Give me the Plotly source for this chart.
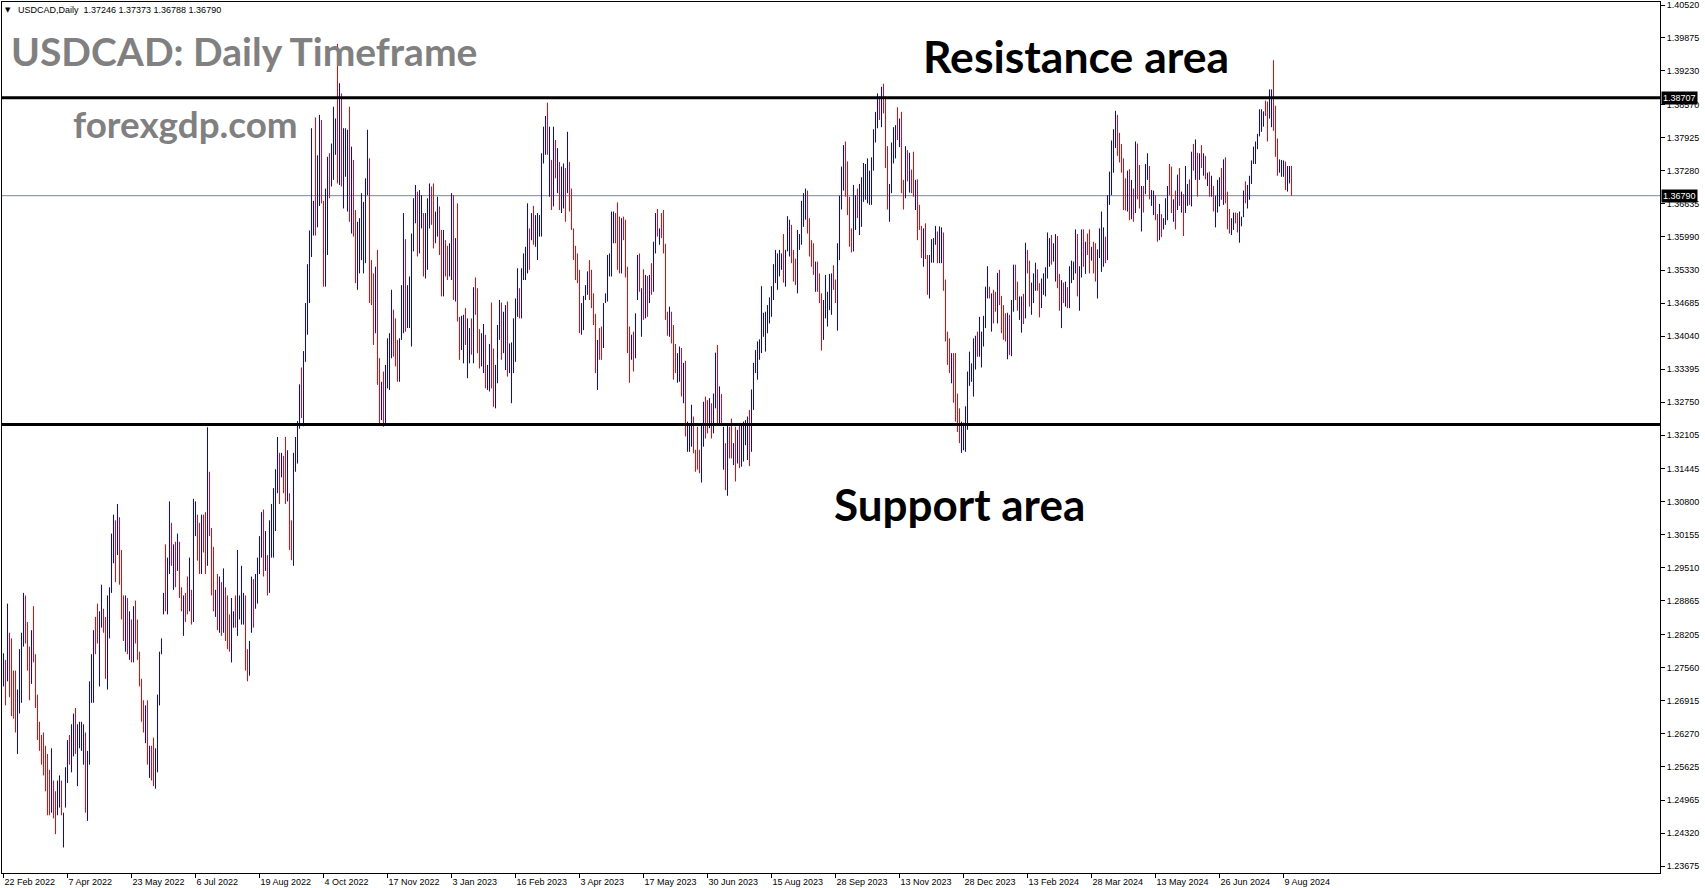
import plotly.graph_objects as go

# ---------------- data ----------------
symbol_header = "USDCAD,Daily"

opens = [
1.2739,1.2753,1.2775,1.2799,1.2783,1.2731,1.2726,1.2625,1.2704,1.2728,
1.2829,1.2878,1.2826,1.2776,1.2756,1.2854,1.2761,1.2685,1.2639,1.2612,
1.2612,1.2585,1.2563,1.2538,1.2510,1.2520,1.2497,1.2487,1.2501,1.2521,
1.2424,1.2506,1.2555,1.2612,1.2579,1.2607,1.2659,1.2560,1.2614,1.2610,
1.2590,1.2598,1.2497,1.2615,1.2716,1.2730,1.2840,1.2865,1.2763,1.2859,
1.2862,1.2831,1.2768,1.2843,1.2937,1.2989,1.3020,1.3006,1.3024,1.2959,
1.2879,1.2820,1.2870,1.2800,1.2833,1.2799,1.2870,1.2834,1.2773,1.2717,
1.2679,1.2630,1.2667,1.2559,1.2589,1.2600,1.2543,1.2597,1.2714,1.2791,
1.2873,1.2971,1.2893,1.2982,1.3022,1.2935,1.2984,1.2967,1.2980,1.2904,
1.2842,1.2891,1.2919,1.2898,1.2894,1.2917,1.3033,1.3037,1.3019,1.2974,
1.3040,1.3036,1.3036,1.3114,1.3003,1.2967,1.2871,1.2917,1.2857,1.2902,
1.2862,1.2892,1.2876,1.2845,1.2804,1.2844,1.2884,1.2868,1.2864,1.2875,
1.2859,1.2868,1.2779,1.2760,1.2857,1.2910,1.2891,1.2908,1.2961,1.2998,
1.3039,1.2968,1.2960,1.2945,1.3003,1.3012,1.3059,1.3130,1.3156,1.3142,
1.3155,1.3181,1.3111,1.3075,1.3028,1.3021,1.3159,1.3180,1.3249,1.3323,
1.3272,1.3389,1.3448,1.3512,1.3635,1.3621,1.3786,1.3659,1.3712,1.3794,
1.3635,1.3559,1.3621,1.3744,1.3722,1.3753,1.3780,1.3921,1.3760,1.3843,
1.3701,1.3745,1.3696,1.3808,1.3656,1.3719,1.3622,1.3535,1.3559,1.3592,
1.3569,1.3597,1.3718,1.3695,1.3535,1.3499,1.3449,1.3520,1.3336,1.3263,
1.3313,1.3266,1.3331,1.3332,1.3401,1.3438,1.3420,1.3381,1.3341,1.3429,
1.3481,1.3558,1.3445,1.3450,1.3450,1.3601,1.3648,1.3662,1.3603,1.3635,
1.3620,1.3555,1.3576,1.3641,1.3682,1.3678,1.3605,1.3622,1.3639,1.3586,
1.3521,1.3578,1.3568,1.3541,1.3565,1.3639,1.3509,1.3618,1.3425,1.3397,
1.3380,1.3445,1.3357,1.3372,1.3425,1.3396,1.3504,1.3473,1.3403,1.3365,
1.3361,1.3386,1.3314,1.3324,1.3436,1.3357,1.3289,1.3346,1.3420,1.3448,
1.3395,1.3376,1.3443,1.3349,1.3309,1.3364,1.3391,1.3471,1.3486,1.3468,
1.3530,1.3534,1.3568,1.3599,1.3608,1.3644,1.3598,1.3581,1.3612,1.3648,
1.3764,1.3782,1.3841,1.3718,1.3729,1.3705,1.3773,1.3710,1.3726,1.3672,
1.3680,1.3712,1.3720,1.3726,1.3677,1.3603,1.3568,1.3554,1.3509,1.3426,
1.3436,1.3484,1.3499,1.3537,1.3519,1.3476,1.3425,1.3328,1.3408,1.3410,
1.3407,1.3475,1.3499,1.3535,1.3559,1.3605,1.3633,1.3640,1.3616,1.3559,
1.3629,1.3609,1.3506,1.3401,1.3373,1.3397,1.3387,1.3501,1.3551,1.3432,
1.3515,1.3465,1.3506,1.3486,1.3535,1.3520,1.3590,1.3642,1.3593,1.3635,
1.3634,1.3555,1.3443,1.3421,1.3440,1.3405,1.3378,1.3330,1.3336,1.3362,
1.3297,1.3326,1.3196,1.3195,1.3213,1.3233,1.3173,1.3210,1.3173,1.3152,
1.3214,1.3270,1.3266,1.3242,1.3259,1.3237,1.3296,1.3356,1.3256,1.3280,
1.3168,1.3177,1.3133,1.3215,1.3227,1.3165,1.3206,1.3175,1.3214,1.3175,
1.3182,1.3206,1.3188,1.3238,1.3215,1.3288,1.3346,1.3342,1.3370,1.3410,
1.3417,1.3397,1.3427,1.3444,1.3460,1.3496,1.3528,1.3516,1.3537,1.3544,
1.3585,1.3523,1.3591,1.3582,1.3607,1.3561,1.3546,1.3525,1.3582,1.3609,
1.3638,1.3650,1.3672,1.3620,1.3582,1.3574,1.3509,1.3538,1.3515,1.3466,
1.3420,1.3465,1.3443,1.3476,1.3470,1.3533,1.3506,1.3466,1.3591,1.3677,
1.3716,1.3763,1.3725,1.3657,1.3606,1.3609,1.3632,1.3681,1.3632,1.3647,
1.3690,1.3692,1.3690,1.3681,1.3689,1.3752,1.3801,1.3831,1.3864,1.3837,
1.3886,1.3845,1.3751,1.3650,1.3714,1.3763,1.3772,1.3839,1.3791,1.3811,
1.3698,1.3705,1.3756,1.3708,1.3721,1.3747,1.3669,1.3687,1.3651,1.3607,
1.3563,1.3611,1.3547,1.3504,1.3562,1.3562,1.3594,1.3597,1.3569,1.3568,
1.3584,1.3491,1.3400,1.3386,1.3330,1.3352,1.3344,1.3277,1.3249,1.3194,
1.3197,1.3205,1.3255,1.3327,1.3326,1.3320,1.3359,1.3403,1.3387,1.3364,
1.3402,1.3444,1.3497,1.3496,1.3436,1.3482,1.3483,1.3459,1.3520,1.3468,
1.3451,1.3438,1.3386,1.3430,1.3398,1.3480,1.3530,1.3500,1.3450,1.3432,
1.3475,1.3483,1.3564,1.3534,1.3465,1.3486,1.3510,1.3527,1.3495,1.3476,
1.3498,1.3499,1.3544,1.3557,1.3590,1.3561,1.3539,1.3580,1.3512,1.3448,
1.3501,1.3477,1.3492,1.3484,1.3521,1.3525,1.3553,1.3580,1.3480,1.3547,
1.3598,1.3545,1.3597,1.3596,1.3560,1.3577,1.3571,1.3507,1.3574,1.3565,
1.3563,1.3589,1.3591,1.3681,1.3712,1.3750,1.3794,1.3821,1.3790,1.3769,
1.3732,1.3700,1.3672,1.3711,1.3656,1.3680,1.3687,1.3759,1.3722,1.3636,
1.3688,1.3700,1.3726,1.3724,1.3668,1.3655,1.3670,1.3632,1.3613,1.3634,
1.3620,1.3638,1.3651,1.3729,1.3718,1.3641,1.3674,1.3672,1.3718,1.3658,
1.3666,1.3673,1.3672,1.3701,1.3690,1.3770,1.3734,1.3746,1.3726,1.3769,
1.3731,1.3748,1.3706,1.3716,1.3689,1.3688,1.3636,1.3665,1.3675,1.3721,
1.3688,1.3736,1.3672,1.3643,1.3612,1.3622,1.3642,1.3637,1.3605,1.3625,
1.3653,1.3698,1.3668,1.3685,1.3716,1.3751,1.3754,1.3779,1.3811,1.3817,
1.3823,1.3859,1.3847,1.3847,1.3835,1.3916,1.3835,1.3776,1.3732,1.3726,
1.3726,1.3735,1.3702,1.3713,1.37246]

highs = [
1.2784,1.2771,1.2881,1.2824,1.2813,1.2750,1.2750,1.2713,1.2792,1.2824,
1.2902,1.2897,1.2845,1.2797,1.2829,1.2876,1.2782,1.2703,1.2650,1.2624,
1.2629,1.2603,1.2587,1.2556,1.2598,1.2535,1.2514,1.2535,1.2545,1.2535,
1.2472,1.2561,1.2614,1.2624,1.2645,1.2666,1.2677,1.2645,1.2650,1.2650,
1.2645,1.2629,1.2593,1.2729,1.2782,1.2829,1.2855,1.2881,1.2866,1.2918,
1.2871,1.2855,1.2897,1.2913,1.3018,1.3055,1.3044,1.3076,1.3050,1.2986,
1.2897,1.2897,1.2892,1.2866,1.2850,1.2876,1.2887,1.2850,1.2787,1.2734,
1.2692,1.2682,1.2692,1.2603,1.2603,1.2619,1.2598,1.2703,1.2787,1.2813,
1.2902,1.2997,1.2971,1.3081,1.3039,1.2997,1.3002,1.3018,1.3002,1.2913,
1.2897,1.2902,1.2934,1.2971,1.2908,1.3086,1.3081,1.3055,1.3039,1.3055,
1.3055,1.3060,1.3226,1.3139,1.3029,1.2992,1.2908,1.2939,1.2934,1.2923,
1.2950,1.2913,1.2897,1.2860,1.2892,1.2866,1.2897,1.2986,1.2897,1.2955,
1.2902,1.2897,1.2792,1.2808,1.2934,1.2929,1.2939,1.2971,1.3013,1.3060,
1.3065,1.3023,1.2976,1.3044,1.3076,1.3107,1.3144,1.3207,1.3176,1.3176,
1.3170,1.3207,1.3181,1.3097,1.3044,1.3176,1.3207,1.3238,1.3310,1.3343,
1.3375,1.3469,1.3545,1.3611,1.3811,1.3669,1.3832,1.3758,1.3837,1.3827,
1.3669,1.3693,1.3755,1.3762,1.3781,1.3853,1.3830,1.3976,1.3899,1.3879,
1.3811,1.3811,1.3808,1.3853,1.3775,1.3749,1.3651,1.3628,1.3635,1.3684,
1.3667,1.3713,1.3808,1.3752,1.3553,1.3527,1.3540,1.3573,1.3361,1.3315,
1.3335,1.3348,1.3400,1.3410,1.3495,1.3456,1.3439,1.3397,1.3400,1.3504,
1.3645,1.3594,1.3504,1.3521,1.3605,1.3674,1.3700,1.3687,1.3690,1.3680,
1.3645,1.3645,1.3674,1.3703,1.3697,1.3703,1.3648,1.3677,1.3658,1.3612,
1.3612,1.3592,1.3581,1.3586,1.3684,1.3680,1.3596,1.3664,1.3442,1.3444,
1.3446,1.3459,1.3439,1.3420,1.3439,1.3500,1.3519,1.3498,1.3418,1.3410,
1.3428,1.3407,1.3348,1.3389,1.3470,1.3380,1.3348,1.3426,1.3475,1.3470,
1.3452,1.3465,1.3472,1.3390,1.3392,1.3439,1.3478,1.3537,1.3498,1.3537,
1.3566,1.3579,1.3664,1.3615,1.3645,1.3659,1.3641,1.3645,1.3641,1.3762,
1.3814,1.3835,1.3861,1.3814,1.3749,1.3814,1.3788,1.3772,1.3745,1.3736,
1.3742,1.3733,1.3804,1.3745,1.3693,1.3615,1.3581,1.3566,1.3534,1.3469,
1.3483,1.3504,1.3531,1.3553,1.3534,1.3488,1.3448,1.3397,1.3420,1.3423,
1.3469,1.3488,1.3563,1.3566,1.3648,1.3648,1.3645,1.3666,1.3638,1.3635,
1.3638,1.3632,1.3540,1.3423,1.3407,1.3413,1.3449,1.3563,1.3566,1.3498,
1.3535,1.3524,1.3522,1.3524,1.3547,1.3589,1.3645,1.3653,1.3615,1.3645,
1.3651,1.3585,1.3452,1.3462,1.3452,1.3426,1.3389,1.3371,1.3384,1.3381,
1.3352,1.3356,1.3237,1.3234,1.3270,1.3247,1.3182,1.3227,1.3182,1.3230,
1.3276,1.3286,1.3279,1.3283,1.3273,1.3292,1.3372,1.3387,1.3306,1.3291,
1.3227,1.3195,1.3229,1.3227,1.3243,1.3195,1.3227,1.3221,1.3231,1.3234,
1.3237,1.3240,1.3247,1.3260,1.3300,1.3352,1.3377,1.3394,1.3398,1.3502,
1.3450,1.3452,1.3465,1.3480,1.3502,1.3545,1.3573,1.3566,1.3573,1.3566,
1.3604,1.3573,1.3639,1.3632,1.3622,1.3573,1.3556,1.3612,1.3604,1.3669,
1.3684,1.3693,1.3689,1.3635,1.3592,1.3586,1.3550,1.3550,1.3527,1.3488,
1.3475,1.3524,1.3491,1.3526,1.3527,1.3543,1.3515,1.3586,1.3679,1.3736,
1.3778,1.3785,1.3746,1.3677,1.3615,1.3700,1.3680,1.3693,1.3702,1.3715,
1.3743,1.3741,1.3752,1.3728,1.3754,1.3809,1.3843,1.3879,1.3873,1.3892,
1.3898,1.3873,1.3776,1.3702,1.3783,1.3813,1.3817,1.3852,1.3830,1.3843,
1.3710,1.3776,1.3768,1.3763,1.3730,1.3765,1.3710,1.3711,1.3661,1.3620,
1.3615,1.3625,1.3563,1.3563,1.3594,1.3596,1.3620,1.3609,1.3619,1.3617,
1.3607,1.3515,1.3413,1.3400,1.3371,1.3371,1.3371,1.3292,1.3263,1.3237,
1.3235,1.3267,1.3335,1.3374,1.3351,1.3400,1.3405,1.3413,1.3442,1.3413,
1.3444,1.3501,1.3541,1.3501,1.3488,1.3495,1.3491,1.3528,1.3534,1.3483,
1.3465,1.3449,1.3450,1.3446,1.3475,1.3544,1.3544,1.3511,1.3482,1.3482,
1.3487,1.3587,1.3573,1.3552,1.3509,1.3527,1.3548,1.3535,1.3508,1.3517,
1.3527,1.3539,1.3607,1.3596,1.3602,1.3586,1.3604,1.3600,1.3526,1.3514,
1.3509,1.3511,1.3500,1.3541,1.3552,1.3550,1.3613,1.3604,1.3541,1.3613,
1.3613,1.3589,1.3605,1.3613,1.3579,1.3589,1.3586,1.3574,1.3615,1.3648,
1.3617,1.3599,1.3680,1.3726,1.3787,1.3809,1.3845,1.3837,1.3802,1.3780,
1.3752,1.3713,1.3728,1.3731,1.3710,1.3693,1.3785,1.3781,1.3739,1.3698,
1.3698,1.3741,1.3762,1.3737,1.3690,1.3689,1.3680,1.3643,1.3663,1.3643,
1.3635,1.3674,1.3698,1.3741,1.3736,1.3672,1.3689,1.3720,1.3733,1.3687,
1.3682,1.3737,1.3702,1.3711,1.3765,1.3780,1.3789,1.3763,1.3762,1.3778,
1.3762,1.3757,1.3724,1.3726,1.3718,1.3698,1.3679,1.3710,1.3715,1.3733,
1.3750,1.3754,1.3687,1.3653,1.3635,1.3646,1.3646,1.3645,1.3648,1.3638,
1.3689,1.3707,1.3700,1.3718,1.3748,1.3775,1.3785,1.3800,1.3848,1.3848,
1.3844,1.3865,1.3863,1.3887,1.3887,1.3944,1.3855,1.3791,1.3750,1.3749,
1.3748,1.3746,1.3737,1.3737,1.37373]

lows = [
1.2719,1.2682,1.2729,1.2698,1.2661,1.2656,1.2629,1.2587,1.2666,1.2687,
1.2797,1.2803,1.2750,1.2692,1.2724,1.2766,1.2677,1.2614,1.2593,1.2566,
1.2545,1.2514,1.2467,1.2467,1.2472,1.2461,1.2430,1.2467,1.2482,1.2467,
1.2404,1.2482,1.2530,1.2566,1.2551,1.2582,1.2587,1.2524,1.2598,1.2593,
1.2566,1.2472,1.2456,1.2566,1.2687,1.2687,1.2782,1.2803,1.2719,1.2834,
1.2824,1.2734,1.2713,1.2813,1.2902,1.2960,1.2923,1.2976,1.2918,1.2850,
1.2808,1.2787,1.2782,1.2771,1.2766,1.2766,1.2803,1.2771,1.2719,1.2650,
1.2629,1.2608,1.2566,1.2540,1.2535,1.2524,1.2519,1.2551,1.2682,1.2782,
1.2860,1.2866,1.2860,1.2939,1.2955,1.2908,1.2913,1.2945,1.2892,1.2866,
1.2818,1.2845,1.2860,1.2866,1.2840,1.2845,1.3013,1.2965,1.2939,1.2939,
1.2981,1.2939,1.2955,1.3013,1.2897,1.2866,1.2855,1.2829,1.2824,1.2818,
1.2824,1.2808,1.2792,1.2787,1.2766,1.2834,1.2834,1.2818,1.2850,1.2840,
1.2840,1.2750,1.2729,1.2740,1.2824,1.2834,1.2871,1.2881,1.2939,1.2971,
1.2934,1.2945,1.2897,1.2902,1.2971,1.2971,1.3023,1.3097,1.3076,1.3128,
1.3097,1.3076,1.3081,1.2986,1.2966,1.2955,1.3139,1.3155,1.3223,1.3244,
1.3228,1.3354,1.3407,1.3469,1.3559,1.3601,1.3601,1.3617,1.3659,1.3664,
1.3501,1.3501,1.3563,1.3674,1.3697,1.3710,1.3759,1.3703,1.3700,1.3697,
1.3654,1.3716,1.3648,1.3628,1.3605,1.3599,1.3508,1.3495,1.3527,1.3553,
1.3527,1.3547,1.3680,1.3469,1.3465,1.3387,1.3410,1.3309,1.3234,1.3240,
1.3227,1.3231,1.3302,1.3299,1.3361,1.3364,1.3345,1.3315,1.3315,1.3397,
1.3410,1.3413,1.3420,1.3420,1.3384,1.3570,1.3625,1.3560,1.3566,1.3615,
1.3521,1.3517,1.3534,1.3615,1.3622,1.3576,1.3586,1.3599,1.3563,1.3482,
1.3482,1.3521,1.3514,1.3521,1.3514,1.3475,1.3472,1.3433,1.3358,1.3377,
1.3351,1.3387,1.3322,1.3351,1.3368,1.3351,1.3446,1.3371,1.3341,1.3345,
1.3332,1.3302,1.3299,1.3296,1.3302,1.3266,1.3263,1.3312,1.3397,1.3358,
1.3371,1.3338,1.3325,1.3332,1.3273,1.3332,1.3354,1.3442,1.3439,1.3439,
1.3514,1.3514,1.3527,1.3534,1.3592,1.3583,1.3579,1.3553,1.3599,1.3599,
1.3742,1.3759,1.3759,1.3677,1.3651,1.3658,1.3713,1.3684,1.3651,1.3645,
1.3654,1.3628,1.3684,1.3648,1.3612,1.3553,1.3514,1.3508,1.3410,1.3407,
1.3416,1.3475,1.3485,1.3475,1.3459,1.3426,1.3332,1.3299,1.3358,1.3358,
1.3381,1.3469,1.3472,1.3521,1.3521,1.3586,1.3586,1.3534,1.3527,1.3527,
1.3592,1.3519,1.3371,1.3313,1.3358,1.3335,1.3361,1.3475,1.3491,1.3403,
1.3436,1.3439,1.3442,1.3469,1.3485,1.3491,1.3566,1.3599,1.3583,1.3596,
1.3566,1.3436,1.3405,1.3403,1.3390,1.3319,1.3332,1.3313,1.3315,1.3286,
1.3273,1.3208,1.3178,1.3178,1.3188,1.3175,1.3139,1.3143,1.3136,1.3118,
1.3188,1.3204,1.3214,1.3224,1.3204,1.3214,1.3263,1.3234,1.3234,1.3234,
1.3143,1.3103,1.3092,1.3165,1.3165,1.3152,1.3120,1.3155,1.3146,1.3149,
1.3159,1.3191,1.3162,1.3150,1.3178,1.3260,1.3332,1.3319,1.3358,1.3371,
1.3403,1.3374,1.3410,1.3429,1.3442,1.3475,1.3508,1.3495,1.3521,1.3534,
1.3509,1.3501,1.3570,1.3560,1.3547,1.3511,1.3504,1.3488,1.3573,1.3583,
1.3618,1.3632,1.3605,1.3560,1.3540,1.3524,1.3491,1.3491,1.3469,1.3376,
1.3397,1.3439,1.3423,1.3455,1.3446,1.3495,1.3469,1.3415,1.3553,1.3652,
1.3689,1.3677,1.3641,1.3579,1.3568,1.3570,1.3612,1.3635,1.3602,1.3618,
1.3667,1.3671,1.3664,1.3661,1.3661,1.3728,1.3783,1.3811,1.3827,1.3813,
1.3840,1.3733,1.3652,1.3628,1.3684,1.3742,1.3752,1.3788,1.3774,1.3684,
1.3652,1.3674,1.3707,1.3685,1.3684,1.3677,1.3651,1.3592,1.3612,1.3557,
1.3540,1.3555,1.3485,1.3478,1.3548,1.3548,1.3583,1.3547,1.3547,1.3547,
1.3493,1.3394,1.3348,1.3332,1.3312,1.3274,1.3237,1.3217,1.3195,1.3176,
1.3181,1.3178,1.3221,1.3307,1.3315,1.3286,1.3339,1.3364,1.3364,1.3343,
1.3384,1.3420,1.3478,1.3478,1.3413,1.3429,1.3452,1.3429,1.3465,1.3410,
1.3397,1.3394,1.3359,1.3367,1.3365,1.3452,1.3475,1.3454,1.3436,1.3411,
1.3428,1.3439,1.3527,1.3462,1.3446,1.3469,1.3493,1.3493,1.3441,1.3459,
1.3485,1.3482,1.3517,1.3540,1.3544,1.3550,1.3511,1.3498,1.3454,1.3420,
1.3469,1.3462,1.3459,1.3459,1.3508,1.3514,1.3527,1.3482,1.3454,1.3519,
1.3540,1.3526,1.3563,1.3527,1.3552,1.3527,1.3511,1.3478,1.3557,1.3530,
1.3540,1.3547,1.3553,1.3661,1.3680,1.3724,1.3772,1.3757,1.3744,1.3724,
1.3651,1.3650,1.3648,1.3631,1.3633,1.3628,1.3645,1.3672,1.3654,1.3609,
1.3646,1.3682,1.3710,1.3672,1.3659,1.3641,1.3631,1.3589,1.3592,1.3598,
1.3613,1.3622,1.3631,1.3680,1.3645,1.3628,1.3613,1.3651,1.3659,1.3646,
1.3600,1.3645,1.3659,1.3661,1.3658,1.3728,1.3710,1.3677,1.3710,1.3733,
1.3718,1.3711,1.3698,1.3677,1.3677,1.3648,1.3617,1.3646,1.3658,1.3671,
1.3661,1.3664,1.3613,1.3605,1.3602,1.3612,1.3625,1.3607,1.3587,1.3619,
1.3637,1.3664,1.3654,1.3671,1.3702,1.3741,1.3741,1.3770,1.3795,1.3804,
1.3814,1.3835,1.3785,1.3830,1.3813,1.3806,1.3755,1.3718,1.3724,1.3716,
1.3716,1.3690,1.3687,1.3703,1.36788]

closes = [
1.2771,1.2709,1.2851,1.2736,1.2707,1.2684,1.2665,1.2688,1.2767,1.2797,
1.2881,1.2831,1.2779,1.2724,1.2808,1.2799,1.2709,1.2641,1.2610,1.2583,
1.2570,1.2541,1.2503,1.2494,1.2573,1.2483,1.2455,1.2521,1.2532,1.2487,
1.2458,1.2545,1.2597,1.2583,1.2626,1.2649,1.2614,1.2621,1.2640,1.2639,
1.2629,1.2519,1.2566,1.2696,1.2763,1.2801,1.2804,1.2826,1.2837,1.2901,
1.2838,1.2770,1.2860,1.2893,1.2995,1.3036,1.2959,1.3056,1.2958,1.2891,
1.2835,1.2875,1.2815,1.2847,1.2791,1.2854,1.2828,1.2795,1.2739,1.2675,
1.2648,1.2667,1.2604,1.2590,1.2555,1.2552,1.2582,1.2673,1.2766,1.2807,
1.2894,1.2905,1.2949,1.3053,1.2980,1.2979,1.2940,1.3003,1.2925,1.2880,
1.2881,1.2862,1.2882,1.2950,1.2860,1.3038,1.3067,1.2992,1.2969,1.3032,
1.3003,1.2975,1.3172,1.3051,1.2937,1.2904,1.2897,1.2862,1.2912,1.2850,
1.2925,1.2840,1.2824,1.2809,1.2867,1.2860,1.2853,1.2952,1.2888,1.2932,
1.2890,1.2794,1.2748,1.2794,1.2912,1.2863,1.2925,1.2953,1.2998,1.3042,
1.2973,1.3007,1.2921,1.3016,1.3055,1.3080,1.3120,1.3185,1.3106,1.3166,
1.3119,1.3115,1.3161,1.3019,1.2989,1.3132,1.3193,1.3221,1.3293,1.3274,
1.3346,1.3446,1.3517,1.3583,1.3761,1.3655,1.3670,1.3730,1.3801,1.3713,
1.3551,1.3655,1.3717,1.3700,1.3764,1.3824,1.3816,1.3785,1.3859,1.3752,
1.3780,1.3792,1.3776,1.3696,1.3741,1.3644,1.3551,1.3601,1.3613,1.3658,
1.3639,1.3680,1.3782,1.3554,1.3491,1.3429,1.3514,1.3388,1.3272,1.3300,
1.3259,1.3325,1.3380,1.3388,1.3468,1.3392,1.3373,1.3340,1.3383,1.3483,
1.3598,1.3467,1.3487,1.3501,1.3561,1.3653,1.3685,1.3598,1.3665,1.3667,
1.3558,1.3619,1.3646,1.3685,1.3645,1.3614,1.3636,1.3661,1.3592,1.3521,
1.3586,1.3542,1.3534,1.3573,1.3650,1.3537,1.3571,1.3502,1.3383,1.3431,
1.3427,1.3409,1.3416,1.3406,1.3389,1.3470,1.3468,1.3409,1.3364,1.3397,
1.3409,1.3334,1.3338,1.3370,1.3352,1.3300,1.3331,1.3403,1.3459,1.3392,
1.3436,1.3440,1.3369,1.3378,1.3368,1.3418,1.3453,1.3518,1.3457,1.3517,
1.3556,1.3566,1.3637,1.3558,1.3634,1.3606,1.3629,1.3627,1.3633,1.3729,
1.3800,1.3820,1.3790,1.3787,1.3680,1.3783,1.3736,1.3754,1.3679,1.3718,
1.3724,1.3660,1.3780,1.3677,1.3636,1.3572,1.3534,1.3525,1.3447,1.3457,
1.3470,1.3498,1.3522,1.3498,1.3482,1.3445,1.3367,1.3377,1.3377,1.3378,
1.3451,1.3484,1.3545,1.3557,1.3623,1.3636,1.3604,1.3574,1.3560,1.3613,
1.3606,1.3553,1.3422,1.3346,1.3397,1.3358,1.3431,1.3545,1.3514,1.3479,
1.3466,1.3507,1.3466,1.3513,1.3504,1.3569,1.3629,1.3615,1.3609,1.3611,
1.3592,1.3481,1.3419,1.3450,1.3409,1.3351,1.3349,1.3359,1.3370,1.3315,
1.3336,1.3252,1.3225,1.3223,1.3254,1.3197,1.3152,1.3168,1.3150,1.3208,
1.3258,1.3229,1.3234,1.3271,1.3225,1.3276,1.3350,1.3280,1.3292,1.3251,
1.3210,1.3131,1.3202,1.3184,1.3188,1.3186,1.3152,1.3208,1.3172,1.3217,
1.3221,1.3230,1.3230,1.3183,1.3276,1.3334,1.3368,1.3379,1.3390,1.3476,
1.3441,1.3436,1.3454,1.3470,1.3490,1.3531,1.3560,1.3552,1.3563,1.3560,
1.3538,1.3559,1.3625,1.3618,1.3570,1.3530,1.3520,1.3587,1.3598,1.3652,
1.3671,1.3681,1.3630,1.3583,1.3556,1.3543,1.3538,1.3509,1.3486,1.3410,
1.3459,1.3507,1.3477,1.3512,1.3511,1.3509,1.3483,1.3552,1.3654,1.3719,
1.3760,1.3709,1.3673,1.3608,1.3582,1.3674,1.3666,1.3652,1.3682,1.3696,
1.3728,1.3727,1.3734,1.3715,1.3735,1.3793,1.3831,1.3865,1.3841,1.3876,
1.3857,1.3775,1.3689,1.3687,1.3763,1.3799,1.3804,1.3807,1.3819,1.3732,
1.3669,1.3756,1.3725,1.3747,1.3698,1.3703,1.3698,1.3628,1.3627,1.3576,
1.3600,1.3576,1.3508,1.3546,1.3585,1.3586,1.3613,1.3566,1.3605,1.3603,
1.3527,1.3430,1.3368,1.3352,1.3359,1.3303,1.3277,1.3240,1.3215,1.3225,
1.3224,1.3249,1.3312,1.3361,1.3344,1.3377,1.3392,1.3379,1.3426,1.3399,
1.3432,1.3485,1.3528,1.3485,1.3473,1.3449,1.3464,1.3508,1.3486,1.3432,
1.3417,1.3411,1.3432,1.3391,1.3453,1.3526,1.3496,1.3471,1.3473,1.3468,
1.3446,1.3557,1.3541,1.3489,1.3496,1.3515,1.3537,1.3506,1.3461,1.3505,
1.3519,1.3528,1.3589,1.3585,1.3561,1.3579,1.3585,1.3529,1.3476,1.3495,
1.3481,1.3501,1.3471,1.3525,1.3543,1.3543,1.3596,1.3519,1.3524,1.3594,
1.3562,1.3576,1.3576,1.3553,1.3574,1.3546,1.3534,1.3555,1.3603,1.3624,
1.3602,1.3563,1.3655,1.3713,1.3766,1.3792,1.3830,1.3781,1.3761,1.3741,
1.3681,1.3669,1.3712,1.3661,1.3695,1.3648,1.3757,1.3705,1.3680,1.3680,
1.3662,1.3729,1.3752,1.3692,1.3684,1.3679,1.3646,1.3605,1.3649,1.3612,
1.3631,1.3664,1.3685,1.3698,1.3672,1.3663,1.3636,1.3706,1.3681,1.3679,
1.3625,1.3719,1.3693,1.3676,1.3744,1.3744,1.3773,1.3703,1.3752,1.3747,
1.3753,1.3725,1.3719,1.3692,1.3710,1.3663,1.3667,1.3697,1.3704,1.3690,
1.3732,1.3691,1.3635,1.3619,1.3628,1.3639,1.3631,1.3618,1.3636,1.3634,
1.3679,1.3677,1.3691,1.3709,1.3739,1.3768,1.3776,1.3794,1.3837,1.3839,
1.3838,1.3844,1.3808,1.3876,1.3872,1.3847,1.3785,1.3740,1.3745,1.3742,
1.3742,1.3707,1.3727,1.3730,1.36790]

date_labels = ["22 Feb 2022", "7 Apr 2022", "23 May 2022", "6 Jul 2022", "19 Aug 2022",
               "4 Oct 2022", "17 Nov 2022", "3 Jan 2023", "16 Feb 2023", "3 Apr 2023",
               "17 May 2023", "30 Jun 2023", "15 Aug 2023", "28 Sep 2023", "13 Nov 2023",
               "28 Dec 2023", "13 Feb 2024", "28 Mar 2024", "13 May 2024", "26 Jun 2024",
               "9 Aug 2024"]
date_label_step = 32   # bars between two date labels

price_ticks = [1.40520, 1.39875, 1.39230, 1.38570, 1.37925, 1.37280, 1.36635, 1.35990,
               1.35330, 1.34685, 1.34040, 1.33395, 1.32750, 1.32105, 1.31445, 1.30800,
               1.30155, 1.29510, 1.28865, 1.28205, 1.27560, 1.26915, 1.26270, 1.25625,
               1.24965, 1.24320, 1.23675]

resistance_level = 1.38707
support_level = 1.32316
current_price = 1.36790

assert len(opens) == len(highs) == len(lows) == len(closes), (len(opens), len(highs), len(lows), len(closes))

# ---------------- layout geometry ----------------
W, H = 1705, 888
ML, MR, MT, MB = 2, 45, 2, 15
PW = W - ML - MR
PH = H - MT - MB
BAR_PX = 2
x_lo = -0.75          # puts every 1px bar on a pixel centre (crisp lines)
x_hi = x_lo + PW / BAR_PX
y_lo, y_hi = 1.235407, 1.40579


def px_x(px):
    return (px - ML) / PW


def px_y(py):
    return 1 - (py - MT) / PH


tick_font = dict(family="Liberation Sans, Arial, sans-serif", size=9, color="black")
title_font = "Lato, Calibri, sans-serif"

fig = go.Figure(go.Ohlc(
    x=list(range(len(opens))), open=opens, high=highs, low=lows, close=closes,
    increasing=dict(line=dict(color="#0000FF", width=1)),
    decreasing=dict(line=dict(color="#FF0000", width=1)),
    tickwidth=0, hoverinfo="skip", showlegend=False,
))

fig.update_layout(
    width=W, height=H,
    margin=dict(l=ML, r=MR, t=MT, b=MB, pad=0, autoexpand=False),
    paper_bgcolor="white", plot_bgcolor="white", showlegend=False,
    xaxis=dict(range=[x_lo, x_hi], rangeslider=dict(visible=False), showgrid=False,
               zeroline=False, showline=True, linecolor="black", linewidth=1, mirror=True,
               ticks="outside", ticklen=4, tickcolor="black", tickwidth=1,
               tickmode="array",
               tickvals=[k * date_label_step for k in range(len(date_labels))],
               ticktext=date_labels, ticklabelposition="outside right",
               tickfont=tick_font, fixedrange=True),
    yaxis=dict(side="right", range=[y_lo, y_hi], showgrid=False, zeroline=False,
               showline=True, linecolor="black", linewidth=1, mirror=True,
               ticks="outside", ticklen=4, tickcolor="black", tickwidth=1,
               tickmode="array", tickvals=price_ticks,
               ticktext=[f"{v:.5f}" for v in price_ticks],
               tickfont=tick_font, fixedrange=True),
)

# current price (bid) line
fig.add_shape(type="line", xref="paper", x0=0, x1=1, yref="y", y0=current_price, y1=current_price,
              line=dict(color="#778899", width=1), layer="below")
# support / resistance lines
for lvl in (resistance_level, support_level):
    fig.add_shape(type="line", xref="paper", x0=0, x1=1, yref="y", y0=lvl, y1=lvl,
                  line=dict(color="black", width=3))

# price boxes on the right scale
for lvl in (resistance_level, current_price):
    fig.add_annotation(xref="paper", x=1, xanchor="left", xshift=1, yref="y", y=lvl,
                       yanchor="middle", text=f"{lvl:.5f}", showarrow=False,
                       font=dict(family="Liberation Sans, Arial, sans-serif", size=9, color="white"),
                       bgcolor="black", borderpad=1)

# header line
fig.add_annotation(xref="paper", yref="paper", x=px_x(3), y=px_y(10), xanchor="left", yanchor="middle",
                   text="\u25BC", showarrow=False,
                   font=dict(family="DejaVu Sans", size=7, color="black"))
header = (symbol_header + "\u00a0\u00a0" +
          f"{opens[-1]:.5f} {highs[-1]:.5f} {lows[-1]:.5f} {closes[-1]:.5f}")
fig.add_annotation(xref="paper", yref="paper", x=px_x(16), y=px_y(10), xanchor="left", yanchor="middle",
                   text=header, showarrow=False, font=tick_font)

# big texts
fig.add_annotation(xref="paper", yref="paper", x=px_x(9), y=px_y(51), xanchor="left", yanchor="middle",
                   text="<b>USDCAD: Daily Timeframe</b>", showarrow=False,
                   font=dict(family=title_font, size=39, color="#808080"))
fig.add_annotation(xref="paper", yref="paper", x=px_x(71), y=px_y(124), xanchor="left", yanchor="middle",
                   text="<b>forexgdp.com</b>", showarrow=False,
                   font=dict(family=title_font, size=36.8, color="#808080"))
fig.add_annotation(xref="paper", yref="paper", x=px_x(921), y=px_y(55), xanchor="left", yanchor="middle",
                   text="<b>Resistance area</b>", showarrow=False,
                   font=dict(family=title_font, size=44.5, color="black"))
fig.add_annotation(xref="paper", yref="paper", x=px_x(832), y=px_y(504), xanchor="left", yanchor="middle",
                   text="<b>Support area</b>", showarrow=False,
                   font=dict(family=title_font, size=44, color="black"))

fig.write_html("out.html", include_plotlyjs=True, full_html=True,
               config={"displayModeBar": False, "staticPlot": True},
               post_script="document.body.style.margin='0';document.body.style.overflow='hidden';")
